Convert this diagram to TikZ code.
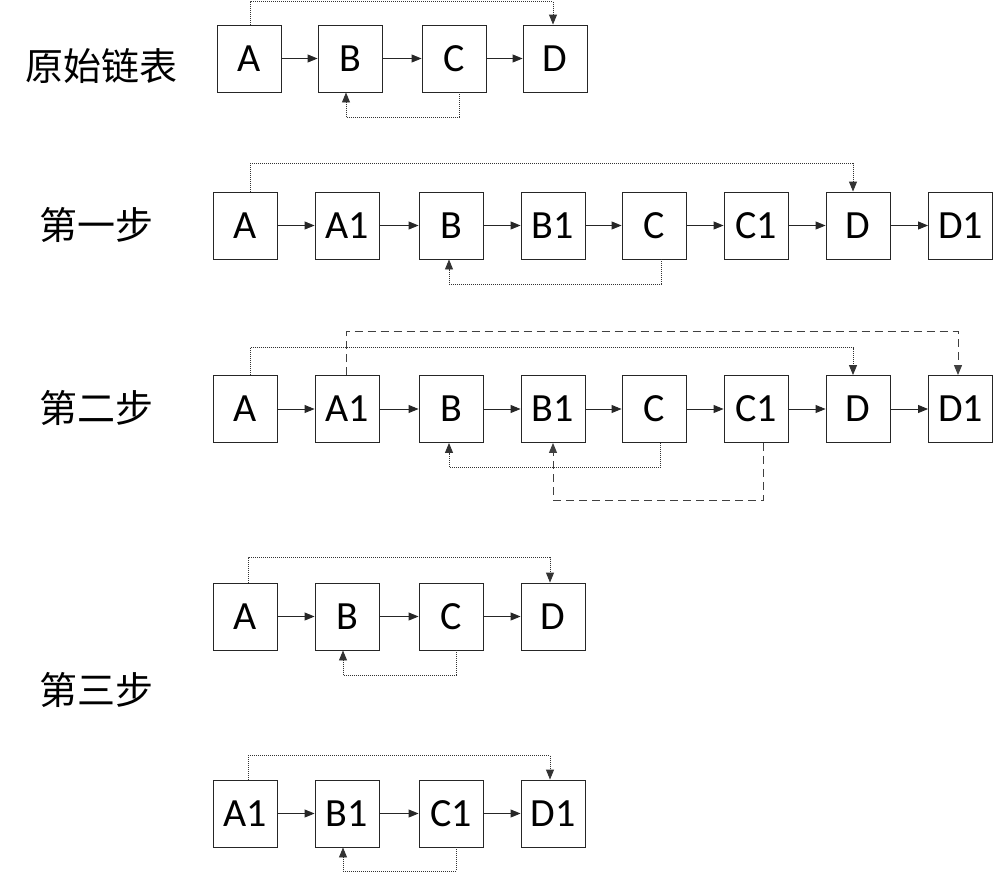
\documentclass[tikz,border=0pt]{standalone}
\usepackage{fontspec}
\setmainfont{Carlito}
\newfontfamily\cjk{Noto Sans CJK SC}
\usetikzlibrary{arrows.meta}
\tikzset{
  box/.style={draw=black!85, line width=0.9pt, minimum width=64pt, minimum height=67pt, inner sep=0pt, font=\fontsize{40}{40}\selectfont},
  lbl/.style={font=\cjk\fontsize{38}{38}\selectfont, inner sep=0pt},
  tip/.style={-{Triangle[length=10pt,width=8pt]}},
  nxt/.style={tip, line width=0.9pt, draw=black!85},
  dotl/.style={tip, line width=0.9pt, draw=black!80, dash pattern=on 1pt off 1pt},
  dashl/.style={tip, line width=1pt, draw=black!75, dash pattern=on 8pt off 5pt}
}
\begin{document}
\begin{tikzpicture}[x=1pt,y=-1pt]
\useasboundingbox (0,0) rectangle (1006,873);
% labels
\node[lbl] (l0) at (101,66) {原始链表};
\node[lbl] (l1) at (96.5,225) {第一步};
\node[lbl] (l2) at (96.5,408) {第二步};
\node[lbl] (l3) at (96.5,690) {第三步};
% row 1
\node[box] (r1a) at (249,58.5) {A};
\node[box] (r1b) at (350,58.5) {B};
\node[box] (r1c) at (454,58.5) {C};
\node[box] (r1d) at (555,58.5) {D};
\draw[nxt] (r1a) -- (r1b);
\draw[nxt] (r1b) -- (r1c);
\draw[nxt] (r1c) -- (r1d);
\draw[dotl] ([xshift=1pt]r1a.north) -- ++(0,-23) -| ([xshift=-2pt]r1d.north);
\draw[dotl] ([xshift=5pt]r1c.south) -- ++(0,25) -| ([xshift=-4pt]r1b.south);
% row 2
\node[box] (r2a) at (245.5,225.5) {A};
\node[box] (r2a1) at (347,225.5) {A1};
\node[box] (r2b) at (451,225.5) {B};
\node[box] (r2b1) at (553,225.5) {B1};
\node[box] (r2c) at (654,225.5) {C};
\node[box] (r2c1) at (756,225.5) {C1};
\node[box] (r2d) at (858,225.5) {D};
\node[box] (r2d1) at (960.5,225.5) {D1};
\draw[nxt] (r2a) -- (r2a1);
\draw[nxt] (r2a1) -- (r2b);
\draw[nxt] (r2b) -- (r2b1);
\draw[nxt] (r2b1) -- (r2c);
\draw[nxt] (r2c) -- (r2c1);
\draw[nxt] (r2c1) -- (r2d);
\draw[nxt] (r2d) -- (r2d1);
\draw[dotl] ([xshift=4.5pt]r2a.north) -- ++(0,-28) -| ([xshift=-5pt]r2d.north);
\draw[dotl] ([xshift=7pt]r2c.south) -- ++(0,25) -| ([xshift=-2pt]r2b.south);
% row 3
\node[box] (r3a) at (245.5,409) {A};
\node[box] (r3a1) at (347,409) {A1};
\node[box] (r3b) at (451,409) {B};
\node[box] (r3b1) at (553,409) {B1};
\node[box] (r3c) at (654,409) {C};
\node[box] (r3c1) at (756,409) {C1};
\node[box] (r3d) at (858,409) {D};
\node[box] (r3d1) at (960.5,409) {D1};
\draw[nxt] (r3a) -- (r3a1);
\draw[nxt] (r3a1) -- (r3b);
\draw[nxt] (r3b) -- (r3b1);
\draw[nxt] (r3b1) -- (r3c);
\draw[nxt] (r3c) -- (r3c1);
\draw[nxt] (r3c1) -- (r3d);
\draw[nxt] (r3d) -- (r3d1);
\draw[dotl] ([xshift=4.5pt]r3a.north) -- ++(0,-27.5) -| ([xshift=-5pt]r3d.north);
\draw[dashl] ([xshift=-1pt]r3a1.north) -- ++(0,-43.5) -| ([xshift=-2.5pt]r3d1.north);
\draw[dotl] ([xshift=6pt]r3c.south) -- ++(0,24.5) -| ([xshift=-2pt]r3b.south);
\draw[dashl] ([xshift=7pt]r3c1.south) -- ++(0,57.5) -| (r3b1.south);
% row 4
\node[box] (r4a) at (245.5,616.5) {A};
\node[box] (r4b) at (347,616.5) {B};
\node[box] (r4c) at (451,616.5) {C};
\node[box] (r4d) at (553,616.5) {D};
\draw[nxt] (r4a) -- (r4b);
\draw[nxt] (r4b) -- (r4c);
\draw[nxt] (r4c) -- (r4d);
\draw[dotl] ([xshift=2.5pt]r4a.north) -- ++(0,-25) -| ([xshift=-3pt]r4d.north);
\draw[dotl] ([xshift=5pt]r4c.south) -- ++(0,25) -| ([xshift=-4pt]r4b.south);
% row 5
\node[box] (r5a) at (245.5,813.5) {A1};
\node[box] (r5b) at (347,813.5) {B1};
\node[box] (r5c) at (451,813.5) {C1};
\node[box] (r5d) at (553,813.5) {D1};
\draw[nxt] (r5a) -- (r5b);
\draw[nxt] (r5b) -- (r5c);
\draw[nxt] (r5c) -- (r5d);
\draw[dotl] ([xshift=2.5pt]r5a.north) -- ++(0,-24) -| ([xshift=-3pt]r5d.north);
\draw[dotl] ([xshift=5pt]r5c.south) -- ++(0,24) -| ([xshift=-4pt]r5b.south);
\end{tikzpicture}
\end{document}
